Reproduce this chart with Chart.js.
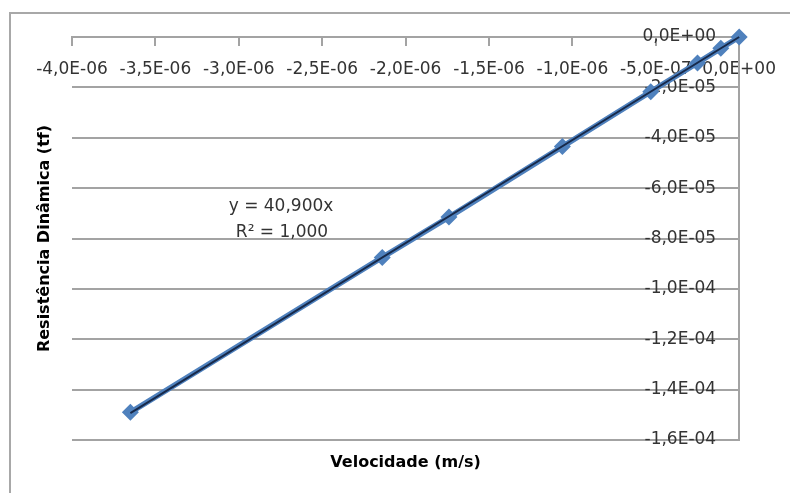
<!DOCTYPE html>
<html>
<head>
<meta charset="utf-8">
<script src="https://cdn.jsdelivr.net/npm/chart.js@4.4.1/dist/chart.umd.min.js"></script>
<style>
  html, body { margin: 0; padding: 0; background: #ffffff; }
  #wrap { position: relative; width: 790px; height: 493px; }
</style>
</head>
<body>
<div id="wrap"><canvas id="c"></canvas></div>
<script>
// ---- Data ----
const velocidade  = [-3.65e-6, -2.14e-6, -1.74e-6, -1.06e-6, -5.3e-7, -2.5e-7, -1.1e-7, 0];
const resistencia = [-1.49e-4, -8.75e-5, -7.15e-5, -4.35e-5, -2.17e-5, -1.03e-5, -4.5e-6, 0];

// Trend line (y = 40,900x) end points as drawn in the reference
const trendX = [-3.65e-6, 0];
const trendY = [-1.493e-4, 0];

// Axis ticks
const xTickValues = [-4.0e-6, -3.5e-6, -3.0e-6, -2.5e-6, -2.0e-6, -1.5e-6, -1.0e-6, -5.0e-7, 0];
const xTickLabels = ['-4,0E-06', '-3,5E-06', '-3,0E-06', '-2,5E-06', '-2,0E-06', '-1,5E-06', '-1,0E-06', '-5,0E-07', '0,0E+00'];
const yTickValues = [0, -2.0e-5, -4.0e-5, -6.0e-5, -8.0e-5, -1.0e-4, -1.2e-4, -1.4e-4, -1.6e-4];
const yTickLabels = ['0,0E+00', '-2,0E-05', '-4,0E-05', '-6,0E-05', '-8,0E-05', '-1,0E-04', '-1,2E-04', '-1,4E-04', '-1,6E-04'];

const xTitle = 'Velocidade (m/s)';
const yTitle = 'Resistência Dinâmica (tf)';
const eqLine1 = 'y = 40,900x';
const eqLine2 = 'R² = 1,000';

const FONT = '"DejaVu Sans", sans-serif';
const GRID = '#a3a3a3';

const seriesPoints = velocidade.map((v, i) => ({ x: v, y: resistencia[i] }));
const trendPoints = trendX.map((v, i) => ({ x: v, y: trendY[i] }));

const decor = {
  id: 'decor',
  afterDraw(chart) {
    const ctx = chart.ctx;
    const a = chart.chartArea;
    ctx.save();
    // outer frame (top & left visible in the reference)
    ctx.strokeStyle = '#a8a8a8';
    ctx.lineWidth = 2;
    ctx.beginPath();
    ctx.moveTo(10, 493);
    ctx.lineTo(10, 13);
    ctx.lineTo(790, 13);
    ctx.stroke();

    ctx.fillStyle = '#000000';
    ctx.font = 'bold 16px ' + FONT;
    ctx.textAlign = 'center';
    ctx.textBaseline = 'middle';
    ctx.fillText(xTitle, (a.left + a.right) / 2, 463);

    ctx.translate(45, (a.top + a.bottom) / 2);
    ctx.rotate(-Math.PI / 2);
    ctx.fillText(yTitle, 0, 0);
    ctx.restore();

    ctx.save();
    ctx.fillStyle = '#333333';
    ctx.font = '17px ' + FONT;
    ctx.textAlign = 'center';
    ctx.textBaseline = 'middle';
    ctx.fillText(eqLine1, 281, 207);
    ctx.fillText(eqLine2, 282, 233);
    ctx.restore();
  }
};

new Chart(document.getElementById('c'), {
  type: 'scatter',
  data: {
    datasets: [
      {
        label: 'Tendência',
        data: trendPoints,
        showLine: true,
        borderColor: '#17294a',
        borderWidth: 2,
        pointRadius: 0,
        order: 0,
        clip: false
      },
      {
        label: 'Resistência',
        data: seriesPoints,
        showLine: true,
        borderColor: '#4f81bd',
        backgroundColor: '#4f81bd',
        borderWidth: 5.5,
        pointStyle: 'rectRot',
        pointRadius: 8.5,
        pointBorderWidth: 0,
        order: 1,
        clip: false
      }
    ]
  },
  plugins: [decor],
  options: {
    responsive: true,
    maintainAspectRatio: false,
    animation: false,
    events: [],
    layout: { padding: { left: 72, right: 50, top: 37, bottom: 53 } },
    plugins: { legend: { display: false }, tooltip: { enabled: false } },
    scales: {
      x: {
        type: 'linear',
        min: -4.0e-6,
        max: 0,
        position: { y: 0 },
        afterBuildTicks: (s) => { s.ticks = xTickValues.map(v => ({ value: v })); },
        ticks: {
          autoSkip: false,
          maxRotation: 0,
          minRotation: 0,
          padding: 14,
          color: '#333333',
          font: { family: FONT, size: 17 },
          callback: (v, i) => xTickLabels[i]
        },
        grid: { drawOnChartArea: false, drawTicks: true, tickLength: 8, color: GRID, lineWidth: 2 },
        border: { display: true, color: GRID, width: 2 },
        title: { display: false }
      },
      y: {
        type: 'linear',
        min: -1.6e-4,
        max: 0,
        position: 'right',
        afterBuildTicks: (s) => { s.ticks = yTickValues.map(v => ({ value: v })); },
        ticks: {
          mirror: true,
          padding: -23,
          color: '#333333',
          font: { family: FONT, size: 17 },
          callback: (v, i) => yTickLabels[i]
        },
        grid: { drawOnChartArea: true, drawTicks: false, color: GRID, lineWidth: 2 },
        border: { display: true, color: GRID, width: 2 },
        title: { display: false }
      }
    }
  }
});
</script>
</body>
</html>
